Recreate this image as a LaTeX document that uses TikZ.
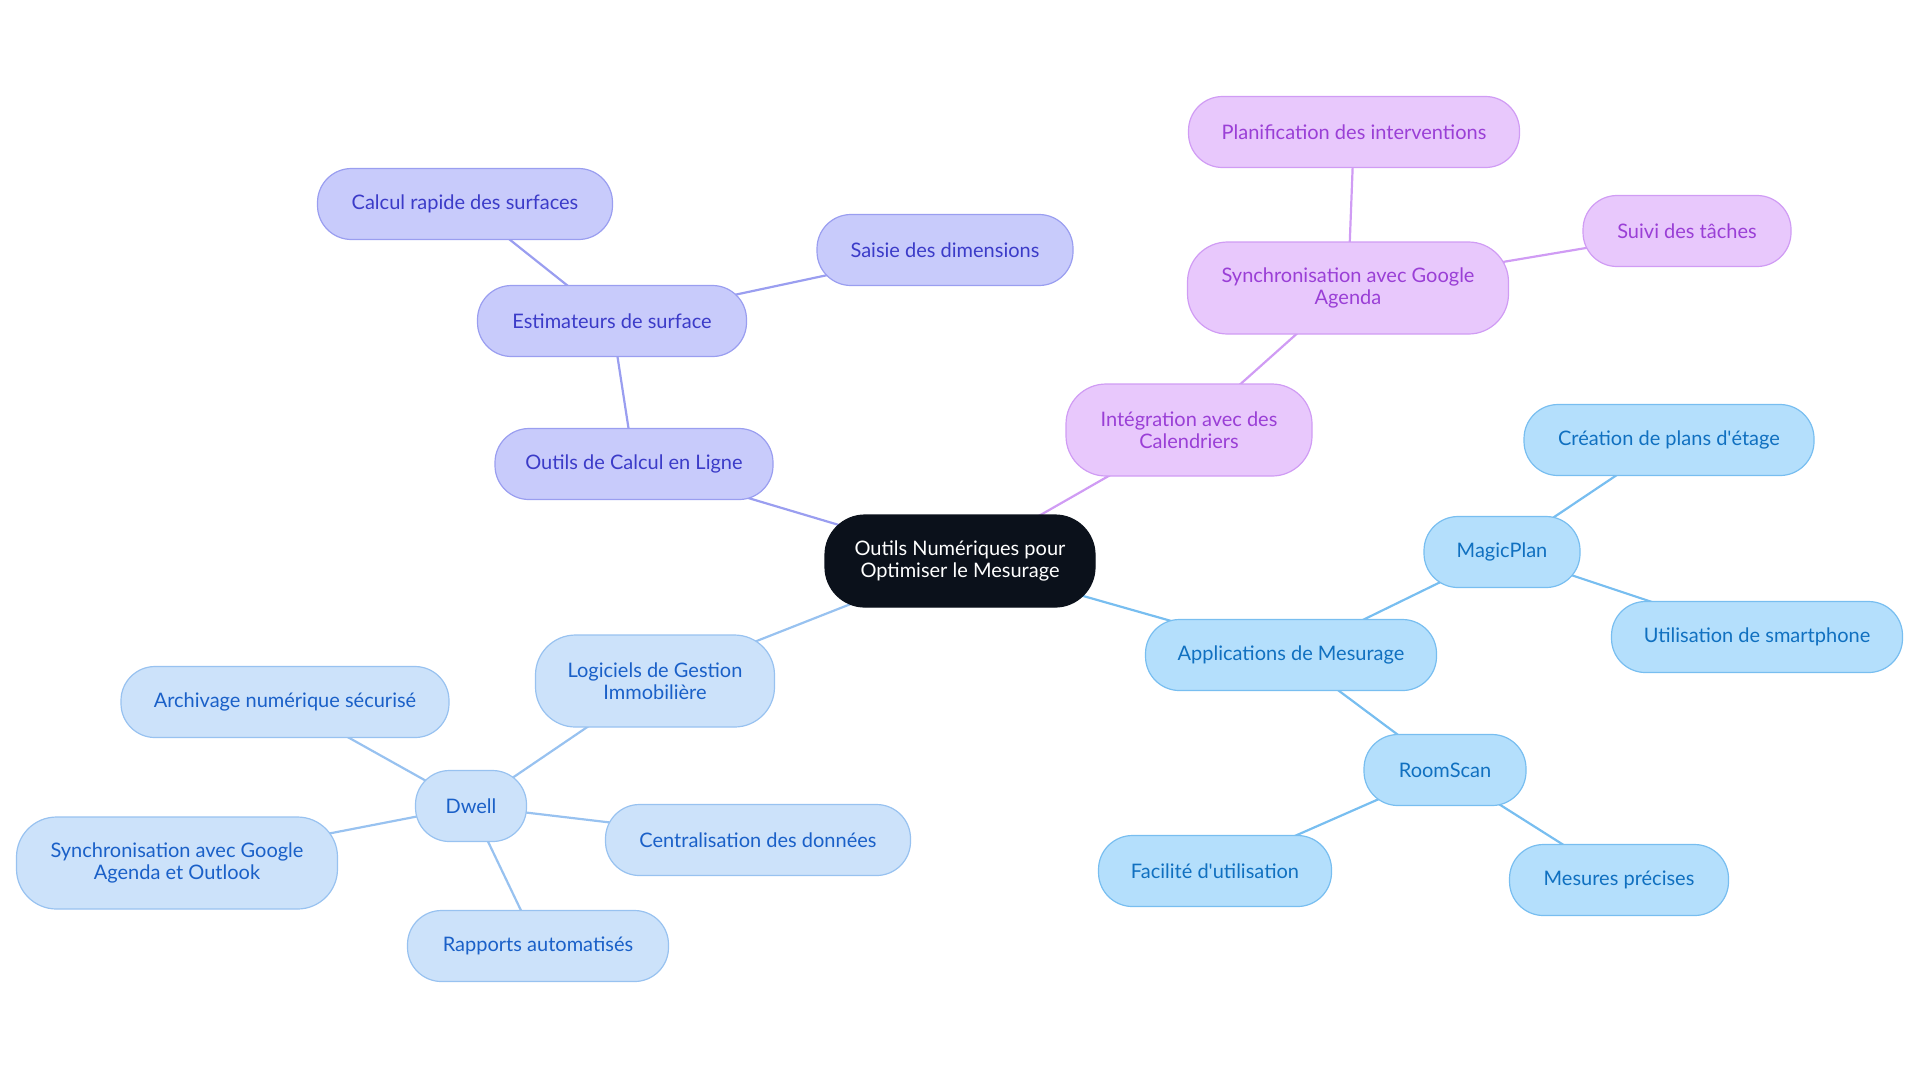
\documentclass[tikz,border=0pt]{standalone}
\usepackage{fontspec}
\setmainfont{Lato}
\usepackage{xcolor}
\usetikzlibrary{backgrounds}

\definecolor{rootfill}{HTML}{0B111B}
\definecolor{calcfill}{HTML}{C8CBFB}
\definecolor{calcline}{HTML}{9A9EF0}
\definecolor{calctext}{HTML}{3B3BC8}
\definecolor{calfill}{HTML}{E8C8FC}
\definecolor{calline}{HTML}{D09CF4}
\definecolor{caltext}{HTML}{9A3FD6}
\definecolor{appfill}{HTML}{B4DFFC}
\definecolor{appline}{HTML}{78BEF0}
\definecolor{apptext}{HTML}{1070C0}
\definecolor{softfill}{HTML}{CCE2FA}
\definecolor{softline}{HTML}{98C2F0}
\definecolor{softtext}{HTML}{1A60C8}

\begin{document}
\begin{tikzpicture}[x=0.5pt,y=-0.5pt,
    box/.style={align=center, font=\fontsize{10}{11}\selectfont, minimum height=35.5pt, rounded corners=17pt, line width=0.6pt},
    tall/.style={minimum height=46pt, rounded corners=20pt},
    rootbox/.style={box, tall, fill=rootfill, draw=rootfill, text=white},
    calcbox/.style={box, fill=calcfill, draw=calcline, text=calctext},
    calbox/.style={box, fill=calfill, draw=calline, text=caltext},
    appbox/.style={box, fill=appfill, draw=appline, text=apptext},
    softbox/.style={box, fill=softfill, draw=softline, text=softtext},
    link/.style={line width=1.1pt}]
  \useasboundingbox (0,0) rectangle (1920,1083);

  % centre
  \node[rootbox, minimum width=135pt] (root) at (960,561) {Outils Numériques pour\\Optimiser le Mesurage};

  % calcul en ligne
  \node[calcbox, minimum width=139pt] (calc) at (634,464) {Outils de Calcul en Ligne};
  \node[calcbox, minimum width=134.5pt] (estim) at (612,321) {Estimateurs de surface};
  \node[calcbox, minimum width=147.5pt] (rapide) at (465,204) {Calcul rapide des surfaces};
  \node[calcbox, minimum width=128pt] (saisie) at (945,250) {Saisie des dimensions};

  % calendriers
  \node[calbox, tall, minimum width=123pt] (integ) at (1189,430) {Intégration avec des\\Calendriers};
  \node[calbox, tall, minimum width=160.5pt] (syncga) at (1348,288) {Synchronisation avec Google\\Agenda};
  \node[calbox, minimum width=165.5pt] (planif) at (1354,132) {Planification des interventions};
  \node[calbox, minimum width=104pt] (suivi) at (1687,231) {Suivi des tâches};

  % applications
  \node[appbox, minimum width=145.5pt] (appli) at (1291,655) {Applications de Mesurage};
  \node[appbox, minimum width=78pt] (magic) at (1502,552) {MagicPlan};
  \node[appbox, minimum width=145pt] (plans) at (1669,440) {Création de plans d\textquotesingle étage};
  \node[appbox, minimum width=145.5pt] (smart) at (1757,637) {Utilisation de smartphone};
  \node[appbox, minimum width=81pt] (room) at (1445,770) {RoomScan};
  \node[appbox, minimum width=116.5pt] (facile) at (1215,871) {Facilité d\textquotesingle utilisation};
  \node[appbox, minimum width=109.5pt] (precis) at (1619,880) {Mesures précises};

  % logiciels
  \node[softbox, tall, minimum width=119.5pt] (logic) at (655,681) {Logiciels de Gestion\\Immobilière};
  \node[softbox, minimum width=55.5pt] (dwell) at (471,806) {Dwell};
  \node[softbox, minimum width=164pt] (archiv) at (285,702) {Archivage numérique sécurisé};
  \node[softbox, tall, minimum width=160.5pt] (syncgo) at (177,863) {Synchronisation avec Google\\Agenda et Outlook};
  \node[softbox, minimum width=152.5pt] (centr) at (758,840) {Centralisation des données};
  \node[softbox, minimum width=130.5pt] (rapport) at (538,946) {Rapports automatisés};

  % liens
  \begin{scope}[on background layer]
    \draw[link, calcline] (root.center) -- (calc.center);
    \draw[link, calcline] (calc.center) -- (estim.center);
    \draw[link, calcline] (estim.center) -- (rapide.center);
    \draw[link, calcline] (estim.center) -- (saisie.center);
    \draw[link, calline] (root.center) -- (integ.center);
    \draw[link, calline] (integ.center) -- (syncga.center);
    \draw[link, calline] (syncga.center) -- (planif.center);
    \draw[link, calline] (syncga.center) -- (suivi.center);
    \draw[link, appline] (root.center) -- (appli.center);
    \draw[link, appline] (appli.center) -- (magic.center);
    \draw[link, appline] (magic.center) -- (plans.center);
    \draw[link, appline] (magic.center) -- (smart.center);
    \draw[link, appline] (appli.center) -- (room.center);
    \draw[link, appline] (room.center) -- (facile.center);
    \draw[link, appline] (room.center) -- (precis.center);
    \draw[link, softline] (root.center) -- (logic.center);
    \draw[link, softline] (logic.center) -- (dwell.center);
    \draw[link, softline] (dwell.center) -- (archiv.center);
    \draw[link, softline] (dwell.center) -- (syncgo.center);
    \draw[link, softline] (dwell.center) -- (centr.center);
    \draw[link, softline] (dwell.center) -- (rapport.center);
  \end{scope}
\end{tikzpicture}
\end{document}
